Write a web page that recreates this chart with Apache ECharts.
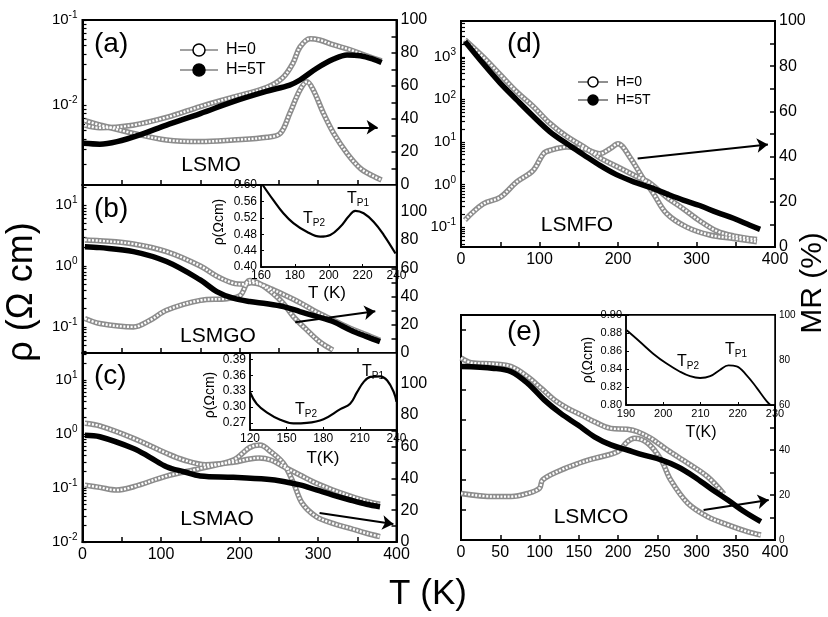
<!DOCTYPE html>
<html><head><meta charset="utf-8">
<script src="https://cdn.jsdelivr.net/npm/echarts@6.0.0/dist/echarts.min.js"></script>
<style>html,body{margin:0;padding:0;background:#fff}#c{width:828px;height:617px}</style>
</head><body><div id="c"></div>
<script>
// ---------- data ----------
// (a) LSMO
const a_T_H0 = [3, 22, 64, 108, 150, 192, 235, 255, 268, 277, 290, 302, 319, 341, 362, 381];
const a_rho_H0 = [0.0058, 0.0054, 0.0058, 0.0072, 0.0096, 0.0124, 0.0162, 0.0209, 0.0309, 0.0479, 0.0603, 0.0582, 0.0513, 0.0447, 0.038, 0.0331];
const a_T_H5 = [1, 22, 44, 73, 107, 150, 192, 234, 264, 277, 298, 320, 337, 354, 370, 381];
const a_rho_H5 = [0.00355, 0.00347, 0.00372, 0.00447, 0.00582, 0.00794, 0.011, 0.0145, 0.0172, 0.0197, 0.0269, 0.0347, 0.0389, 0.038, 0.0347, 0.0316];
const a_T_MR = [3, 22, 65, 107, 150, 192, 235, 252, 264, 277, 286, 294, 307, 320, 337, 354, 370, 381];
const a_MR = [39, 36.4, 31.3, 27.3, 26.3, 27.3, 28.9, 31.3, 43.4, 57.6, 62.6, 57.6, 43.4, 31.3, 19.2, 10.1, 5.5, 3.0];
const a_arrow = [[325, 35], [376, 35]];
// (b) LSMGO
const b_T_H0 = [3, 22, 65, 107, 150, 171, 192, 205, 215, 228, 240, 256, 277, 298, 319, 341, 362, 379];
const b_rho_H0 = [2.67, 2.6, 2.3, 1.72, 1.0, 0.68, 0.52, 0.5, 0.53, 0.49, 0.42, 0.34, 0.25, 0.175, 0.13, 0.095, 0.074, 0.06];
const b_T_H5 = [3, 22, 65, 107, 150, 171, 192, 213, 235, 256, 277, 298, 319, 341, 362, 379];
const b_rho_H5 = [2.07, 2.0, 1.72, 1.18, 0.59, 0.38, 0.295, 0.26, 0.24, 0.215, 0.178, 0.148, 0.122, 0.089, 0.069, 0.057];
const b_T_MR = [3, 22, 65, 86, 107, 150, 184, 201, 213, 226, 243, 256, 269, 286, 302, 319];
const b_MR = [24.4, 20.9, 18.5, 23.2, 30.3, 37.3, 38.5, 40.8, 51.4, 49, 42, 35, 25.6, 16.2, 8, 2.1];
const b_arrow = [[271, 21.8], [373, 29.6]];
// (c) LSMAO
const c_T_H0 = [3, 22, 65, 107, 129, 157, 192, 213, 225, 240, 256, 277, 298, 319, 341, 362, 379];
const c_rho_H0 = [1.58, 1.41, 0.83, 0.44, 0.33, 0.27, 0.30, 0.345, 0.36, 0.33, 0.25, 0.174, 0.122, 0.092, 0.071, 0.057, 0.05];
const c_T_H5 = [3, 22, 65, 86, 107, 129, 150, 192, 235, 256, 277, 298, 319, 341, 362, 379];
const c_rho_H5 = [0.95, 0.89, 0.54, 0.37, 0.248, 0.2, 0.167, 0.158, 0.145, 0.132, 0.114, 0.092, 0.074, 0.06, 0.05, 0.045];
const c_T_MR = [3, 22, 43, 65, 107, 150, 192, 213, 226, 240, 256, 269, 280, 298, 319, 341, 362, 379];
const c_MR = [35.8, 34.4, 32.7, 34.8, 41.5, 46.3, 51.6, 59.5, 61, 56.8, 49.5, 36.9, 24.3, 15.9, 11.7, 8.6, 5.5, 3.4];
const c_arrow = [[302, 18.2], [396, 11.3]];
// (d) LSMFO
const d_T_H0 = [5, 28, 50, 71, 92, 113, 135, 156, 177, 203, 228, 241, 262, 283, 304, 326, 347, 377];
const d_rho_H0 = [2500, 1000, 380, 150, 68, 27.5, 13.3, 7.8, 4.2, 2.4, 1.4, 1.07, 0.5, 0.27, 0.14, 0.08, 0.062, 0.051];
const d_T_H5 = [5, 28, 50, 71, 92, 113, 135, 156, 177, 198, 220, 241, 262, 283, 304, 326, 347, 368, 381];
const d_rho_H5 = [2300, 700, 240, 97, 40, 17.5, 9, 5, 2.8, 1.7, 1.15, 0.85, 0.6, 0.43, 0.32, 0.22, 0.16, 0.11, 0.088];
const d_T_MR = [5, 28, 50, 71, 92, 105, 113, 135, 156, 177, 190, 200, 215, 232, 245, 262, 287, 317, 347, 377];
const d_MR = [11.9, 19, 22, 28.8, 33.9, 41.3, 42.7, 44.2, 43.5, 41.3, 43.5, 45.7, 39.8, 30.3, 23.7, 14.8, 8.9, 5.3, 3.8, 2.3];
const d_arrow = [[225, 39.2], [391, 45.4]];
// (e) LSMCO (left axis unlabeled in the source, arbitrary units)
const e_T_H0 = [0, 13, 42, 64, 85, 102, 119, 136, 153, 170, 191, 212, 225, 242, 263, 289, 314, 335];
const e_rho_H0 = [6.07, 5.91, 5.87, 5.78, 5.44, 5.06, 4.67, 4.39, 4.17, 3.94, 3.72, 3.69, 3.61, 3.39, 3.0, 2.56, 2.11, 1.53];
const e_T_H5 = [0, 42, 64, 85, 106, 127, 149, 170, 191, 212, 233, 255, 276, 297, 318, 340, 361, 382];
const e_rho_H5 = [5.78, 5.72, 5.61, 5.22, 4.67, 4.22, 3.83, 3.44, 3.17, 3.0, 2.83, 2.67, 2.44, 2.11, 1.72, 1.33, 0.94, 0.61];
const e_T_MR = [0, 42, 64, 85, 100, 104, 127, 149, 170, 200, 212, 221, 238, 255, 267, 289, 314, 340, 365, 382];
const e_MR = [20.7, 19.3, 19.3, 20.7, 23, 26.7, 31, 34, 36.3, 39.3, 43.7, 45.2, 43, 35.6, 26.7, 16.3, 10.4, 6.7, 3.7, 2.2];
const e_arrow = [[309, 13.3], [392, 17.8]];
// insets
const ib_T = [161, 167.3, 173.2, 179.1, 187, 195, 200.9, 206.8, 211.7, 215.7, 220.6, 226.6, 232.5, 239.4];
const ib_rho = [0.60, 0.563, 0.531, 0.507, 0.486, 0.474, 0.478, 0.498, 0.523, 0.537, 0.531, 0.510, 0.478, 0.433];
const ic_T = [120, 125.5, 133.7, 144.7, 155.6, 166.6, 180.2, 194, 202, 207.7, 213, 218.6, 226.8, 232.4, 237.8, 240];
const ic_rho = [0.328, 0.306, 0.29, 0.276, 0.269, 0.27, 0.277, 0.296, 0.306, 0.328, 0.347, 0.357, 0.358, 0.35, 0.328, 0.31];
const ie_T = [190.2, 193.8, 197.3, 200.9, 204.5, 207.2, 209.9, 212.6, 215.2, 217.5, 219.7, 222.4, 225.1, 227.8, 229.1];
const ie_rho = [0.883, 0.870, 0.857, 0.846, 0.837, 0.832, 0.830, 0.832, 0.839, 0.844, 0.843, 0.833, 0.819, 0.804, 0.799];
// tick labels
const xLabelsMain = [0, 100, 200, 300, 400];
const xLabelsE = [0, 50, 100, 150, 200, 250, 300, 350, 400];
const mrLabels = [0, 20, 40, 60, 80, 100];
const icLabels = [0.27, 0.30, 0.33, 0.36, 0.39];

// ---------- chart ----------
const FONT = '"Liberation Sans", Arial, sans-serif';
const BLACK = '#000';
const pts = (T, V) => T.map((t, i) => [t, V[i]]);

function decades(lo, hi) {
  const out = [];
  for (let e = Math.ceil(Math.log10(lo) - 1e-9); e <= Math.floor(Math.log10(hi) + 1e-9); e++) out.push(Math.pow(10, e));
  return out;
}
function logMinor(lo, hi) {
  const out = [];
  for (let e = Math.floor(Math.log10(lo)); e <= Math.ceil(Math.log10(hi)); e++)
    for (let m = 1; m < 10; m++) { const v = m * Math.pow(10, e); if (v >= lo && v <= hi) out.push(v); }
  return out;
}

const grids = [
  {left: 82.5, top: 20, width: 314, height: 165},
  {left: 82.5, top: 185, width: 314, height: 168},
  {left: 82.5, top: 353, width: 314, height: 189},
  {left: 461, top: 21, width: 314, height: 226},
  {left: 461, top: 315, width: 314, height: 225},
  {left: 261, top: 185, width: 135.5, height: 82, inset: true},
  {left: 250, top: 353, width: 146.5, height: 77, inset: true},
  {left: 626, top: 315, width: 149, height: 90, inset: true}
].map(g => ({
  left: g.left, top: g.top, width: g.width, height: g.height, show: true,
  borderColor: BLACK, borderWidth: g.inset ? 1.5 : 2,
  backgroundColor: g.inset ? '#fff' : 'transparent', z: g.inset ? 10 : 2,
  containLabel: false, outerBoundsMode: 'none'
}));

function xMain(gi, labels) {
  return {type: 'value', gridIndex: gi, min: 0, max: 400, interval: 50, position: 'bottom',
    axisLine: {show: true, onZero: false, lineStyle: {color: BLACK, width: 2}},
    axisTick: {show: true, inside: true, length: 5, lineStyle: {color: BLACK, width: 1.5}},
    axisLabel: {show: !!labels, color: BLACK, fontSize: 16, fontFamily: FONT, margin: 5,
      formatter: v => (labels && labels.includes(v) ? String(v) : '')},
    splitLine: {show: false}};
}
function yLog(gi, lo, hi) {
  return {type: 'log', logBase: 10, gridIndex: gi, min: lo, max: hi, position: 'left',
    axisLine: {show: true, onZero: false, lineStyle: {color: BLACK, width: 2}},
    axisTick: {show: true, inside: true, length: 4, customValues: logMinor(lo, hi), lineStyle: {color: BLACK, width: 1.2}},
    axisLabel: {color: BLACK, fontSize: 15, fontFamily: FONT, margin: 5, customValues: decades(lo, hi),
      formatter: v => '10{s|' + Math.round(Math.log10(v)) + '}',
      rich: {s: {fontSize: 10, fontFamily: FONT, color: BLACK, padding: [0, 0, 9, 0]}}},
    splitLine: {show: false}, minorSplitLine: {show: false}};
}
function yRight(gi, max, fs) {
  return {type: 'value', gridIndex: gi, position: 'right', min: 0, max: max, interval: 10,
    axisLine: {show: true, onZero: false, lineStyle: {color: BLACK, width: 2}},
    axisTick: {show: true, inside: true, length: 5, lineStyle: {color: BLACK, width: 1.5}},
    axisLabel: {color: BLACK, fontSize: fs, fontFamily: FONT, margin: 4,
      formatter: v => (mrLabels.includes(v) ? String(v) : '')},
    splitLine: {show: false}};
}
function xInset(gi, min, max, interval, fs) {
  return {type: 'value', gridIndex: gi, min, max, interval, position: 'bottom', z: 11,
    axisLine: {show: true, onZero: false, lineStyle: {color: BLACK, width: 1.5}},
    axisTick: {show: true, inside: true, length: 3, lineStyle: {color: BLACK, width: 1}},
    axisLabel: {color: BLACK, fontSize: fs, fontFamily: FONT, margin: 3},
    splitLine: {show: false}};
}
function yInset(gi, min, max, extra, fs) {
  return Object.assign({type: 'value', gridIndex: gi, min, max, position: 'left', z: 11,
    axisLine: {show: true, onZero: false, lineStyle: {color: BLACK, width: 1.5}},
    axisTick: {show: true, inside: true, length: 3, lineStyle: {color: BLACK, width: 1}},
    axisLabel: {color: BLACK, fontSize: fs, fontFamily: FONT, margin: 4, formatter: v => v.toFixed(2)},
    splitLine: {show: false}}, extra);
}

const xAxes = [xMain(0, null), xMain(1, null), xMain(2, xLabelsMain), xMain(3, xLabelsMain), xMain(4, xLabelsE),
  xInset(5, 160, 240, 20, 12), xInset(6, 120, 240, 30, 12), xInset(7, 190, 230, 10, 11)];

const yAxes = [
  yLog(0, Math.pow(10, -2.94), 0.1),
  yLog(1, Math.pow(10, -1.43), Math.pow(10, 1.33)),
  yLog(2, 0.01, Math.pow(10, 1.5)),
  yLog(3, Math.pow(10, -1.47), Math.pow(10, 3.84)),
  {type: 'value', gridIndex: 4, min: 0, max: 7.5, interval: 1, position: 'left',
    axisLine: {show: true, onZero: false, lineStyle: {color: BLACK, width: 2}},
    axisTick: {show: true, inside: true, length: 5, lineStyle: {color: BLACK, width: 1.5}},
    axisLabel: {show: false}, splitLine: {show: false}},
  yRight(0, 100, 16), yRight(1, 119, 16), yRight(2, 119, 16), yRight(3, 100, 16), yRight(4, 100, 10),
  yInset(5, 0.40, 0.60, {interval: 0.04}, 12),
  yInset(6, 0.2566, 0.402, {axisLabel: {color: BLACK, fontSize: 12, fontFamily: FONT, margin: 4, customValues: icLabels, formatter: v => v.toFixed(2)}, axisTick: {show: true, inside: true, length: 3, customValues: icLabels, lineStyle: {color: BLACK, width: 1}}}, 12),
  yInset(7, 0.80, 0.90, {interval: 0.02}, 11)
];

function openCurve(name, gi, yi, T, V, arrow) {
  const base = {type: 'line', name, xAxisIndex: gi, yAxisIndex: yi, data: pts(T, V), smooth: 0.35,
    showSymbol: false, symbol: 'none', silent: true, clip: true};
  const outer = Object.assign({}, base, {lineStyle: {color: '#8d8d8d', width: 5.5}, z: 2});
  const inner = Object.assign({}, base, {lineStyle: {color: '#ffffff', width: 2.4, type: [2, 1.6]}, z: 3});
  if (arrow) {
    inner.markLine = {silent: true, symbol: ['none', 'arrow'], symbolSize: 11, animation: false,
      lineStyle: {color: BLACK, width: 2, type: 'solid'}, label: {show: false},
      data: [[{coord: arrow[0]}, {coord: arrow[1]}]]};
  }
  return [outer, inner];
}
function filledCurve(name, gi, yi, T, V) {
  return {type: 'line', name, xAxisIndex: gi, yAxisIndex: yi, data: pts(T, V), smooth: 0.35,
    showSymbol: false, symbol: 'none', silent: true, lineStyle: {color: BLACK, width: 5.5}, z: 4};
}
function insetCurve(gi, T, V, w) {
  return {type: 'line', xAxisIndex: gi, yAxisIndex: gi + 5, data: pts(T, V), smooth: 0.4,
    showSymbol: false, symbol: 'none', silent: true, lineStyle: {color: BLACK, width: w}, z: 12};
}

const panels = [
  [a_T_H0, a_rho_H0, a_T_H5, a_rho_H5, a_T_MR, a_MR, a_arrow],
  [b_T_H0, b_rho_H0, b_T_H5, b_rho_H5, b_T_MR, b_MR, b_arrow],
  [c_T_H0, c_rho_H0, c_T_H5, c_rho_H5, c_T_MR, c_MR, c_arrow],
  [d_T_H0, d_rho_H0, d_T_H5, d_rho_H5, d_T_MR, d_MR, d_arrow],
  [e_T_H0, e_rho_H0, e_T_H5, e_rho_H5, e_T_MR, e_MR, e_arrow]
];
let series = [];
panels.forEach((p, i) => {
  series = series.concat(openCurve('H=0', i, i, p[0], p[1]));
  series = series.concat(openCurve('MR', i, i + 5, p[4], p[5], p[6]));
  series.push(filledCurve('H=5T', i, i, p[2], p[3]));
});
series.push(insetCurve(5, ib_T, ib_rho, 2.2));
series.push(insetCurve(6, ic_T, ic_rho, 2.2));
series.push(insetCurve(7, ie_T, ie_rho, 1.8));

function txt(x, y, text, fs, o) {
  o = o || {};
  return {type: 'text', x, y, rotation: o.rot || 0, z: 100, silent: true,
    style: {text, fontSize: fs, fontFamily: FONT, fill: BLACK, align: o.align || 'left', verticalAlign: 'middle', rich: o.rich}};
}
const subRich = fs => ({s: {fontSize: fs, fontFamily: FONT, fill: BLACK, padding: [fs * 0.8, 0, 0, 0]}});
function legend(x0, x1, y, r, lw, text, filled, fs) {
  return {type: 'group', z: 100, silent: true, children: [
    {type: 'line', shape: {x1: x0, y1: y, x2: x1, y2: y}, style: {stroke: '#444', lineWidth: lw}},
    {type: 'circle', shape: {cx: (x0 + x1) / 2, cy: y, r}, style: {fill: filled ? BLACK : '#fff', stroke: BLACK, lineWidth: 1.5}},
    {type: 'text', x: x1 + 8, y, style: {text, fontSize: fs, fontFamily: FONT, fill: BLACK, verticalAlign: 'middle'}}
  ]};
}

const graphic = [
  txt(94, 44, '(a)', 28), txt(94, 209, '(b)', 28), txt(94, 376, '(c)', 28),
  txt(507, 44, '(d)', 28), txt(507, 332, '(e)', 28),
  txt(211, 165, 'LSMO', 21, {align: 'center'}), txt(218, 336, 'LSMGO', 21, {align: 'center'}),
  txt(217, 519, 'LSMAO', 21, {align: 'center'}), txt(577, 225, 'LSMFO', 21, {align: 'center'}),
  txt(591, 517, 'LSMCO', 21, {align: 'center'}),
  txt(22, 292, 'ρ (Ω cm)', 36, {align: 'center', rot: Math.PI / 2}),
  txt(813, 283, 'MR (%)', 30, {align: 'center', rot: Math.PI / 2}),
  txt(428, 594, 'T (K)', 35, {align: 'center'}),
  legend(180, 218, 50, 6, 1.2, 'H=0', false, 16), legend(180, 218, 70, 6, 1.2, 'H=5T', true, 16),
  legend(578, 608, 82, 5, 1.2, 'H=0', false, 14), legend(578, 608, 100, 5, 1.2, 'H=5T', true, 14),
  txt(347, 199, 'T{s|P1}', 16, {rich: subRich(10)}), txt(303, 219, 'T{s|P2}', 16, {rich: subRich(10)}),
  txt(362, 372, 'T{s|P1}', 16, {rich: subRich(10)}), txt(295, 410, 'T{s|P2}', 16, {rich: subRich(10)}),
  txt(725, 350, 'T{s|P1}', 16, {rich: subRich(10)}), txt(677, 362, 'T{s|P2}', 16, {rich: subRich(10)}),
  txt(219, 222, 'ρ(Ωcm)', 14, {align: 'center', rot: Math.PI / 2}),
  txt(210, 395, 'ρ(Ωcm)', 14, {align: 'center', rot: Math.PI / 2}),
  txt(588, 360, 'ρ(Ωcm)', 14, {align: 'center', rot: Math.PI / 2}),
  txt(327, 293, 'T (K)', 17, {align: 'center'}),
  txt(323, 458, 'T(K)', 17, {align: 'center'}),
  txt(701, 433, 'T(K)', 16, {align: 'center'})
];

const chart = echarts.init(document.getElementById('c'), null, {renderer: 'canvas'});
chart.setOption({
  animation: false, backgroundColor: '#fff',
  textStyle: {fontFamily: FONT},
  grid: grids, xAxis: xAxes, yAxis: yAxes, series, graphic
});
</script></body></html>
